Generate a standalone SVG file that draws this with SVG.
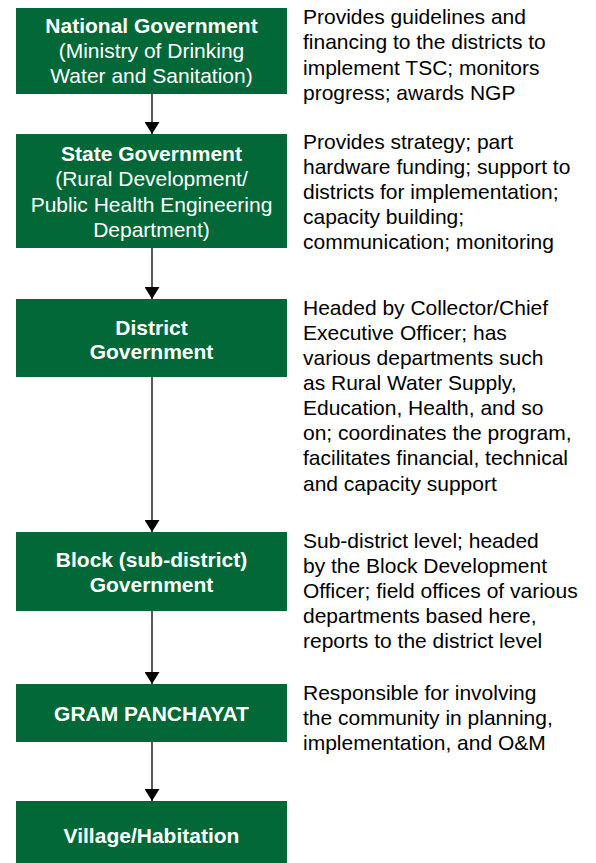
<svg xmlns="http://www.w3.org/2000/svg" width="596" height="863" viewBox="0 0 596 863">
<defs>
<style>
.box{fill:#036837;}
.bt{font-family:"Liberation Sans",Arial,sans-serif;font-size:21px;fill:#ffffff;text-anchor:middle;}
.b{font-weight:bold;}
.desc{font-family:"Liberation Sans",Arial,sans-serif;font-size:21px;fill:#000000;}
.conn{stroke:#000000;stroke-width:1.3;fill:none;marker-end:url(#arr);}
</style>
<marker id="arr" markerUnits="userSpaceOnUse" viewBox="0 0 12 15" refX="12" refY="7.5" markerWidth="12" markerHeight="15" orient="auto">
<path d="M0,0 L12,7.5 L0,15 z" fill="#000000"/>
</marker>
</defs>
<rect width="596" height="863" fill="#ffffff"/>
<g id="connectors">
<line class="conn" x1="152" y1="94" x2="152" y2="134"/>
<line class="conn" x1="152" y1="248" x2="152" y2="299"/>
<line class="conn" x1="152" y1="377" x2="152" y2="532"/>
<line class="conn" x1="152" y1="611" x2="152" y2="684"/>
<line class="conn" x1="152" y1="742" x2="152" y2="801"/>
</g>
<g id="national">
<rect class="box" x="16" y="8" width="271" height="86"/>
<text class="bt b" x="151.5" y="33">National Government</text>
<text class="bt" x="151.5" y="58">(Ministry of Drinking</text>
<text class="bt" x="151.5" y="83">Water and Sanitation)</text>
</g>
<g id="state">
<rect class="box" x="16" y="134" width="271" height="114"/>
<text class="bt b" x="151.5" y="161">State Government</text>
<text class="bt" x="151.5" y="186">(Rural Development/</text>
<text class="bt" x="151.5" y="212">Public Health Engineering</text>
<text class="bt" x="151.5" y="237">Department)</text>
</g>
<g id="district">
<rect class="box" x="16" y="299" width="271" height="78"/>
<text class="bt b" x="151.5" y="335">District</text>
<text class="bt b" x="151.5" y="359">Government</text>
</g>
<g id="block">
<rect class="box" x="16" y="532" width="271" height="79"/>
<text class="bt b" x="151.5" y="567">Block (sub-district)</text>
<text class="bt b" x="151.5" y="592">Government</text>
</g>
<g id="gram">
<rect class="box" x="16" y="684" width="271" height="58"/>
<text class="bt b" x="151.5" y="721">GRAM PANCHAYAT</text>
</g>
<g id="village">
<rect class="box" x="16" y="801" width="271" height="62"/>
<text class="bt b" x="151.5" y="843">Village/Habitation</text>
</g>
<g id="desc-national">
<text class="desc" x="303" y="24">Provides guidelines and</text>
<text class="desc" x="303" y="49">financing to the districts to</text>
<text class="desc" x="303" y="75">implement TSC; monitors</text>
<text class="desc" x="303" y="100">progress; awards NGP</text>
</g>
<g id="desc-state">
<text class="desc" x="303" y="149">Provides strategy; part</text>
<text class="desc" x="303" y="174">hardware funding; support to</text>
<text class="desc" x="303" y="199">districts for implementation;</text>
<text class="desc" x="303" y="224">capacity building;</text>
<text class="desc" x="303" y="249">communication; monitoring</text>
</g>
<g id="desc-district">
<text class="desc" x="303" y="315">Headed by Collector/Chief</text>
<text class="desc" x="303" y="340">Executive Officer; has</text>
<text class="desc" x="303" y="365">various departments such</text>
<text class="desc" x="303" y="390">as Rural Water Supply,</text>
<text class="desc" x="303" y="415">Education, Health, and so</text>
<text class="desc" x="303" y="440">on; coordinates the program,</text>
<text class="desc" x="303" y="465">facilitates financial, technical</text>
<text class="desc" x="303" y="491">and capacity support</text>
</g>
<g id="desc-block">
<text class="desc" x="303" y="548">Sub-district level; headed</text>
<text class="desc" x="303" y="573">by the Block Development</text>
<text class="desc" x="303" y="598">Officer; field offices of various</text>
<text class="desc" x="303" y="623">departments based here,</text>
<text class="desc" x="303" y="648">reports to the district level</text>
</g>
<g id="desc-gram">
<text class="desc" x="303" y="700">Responsible for involving</text>
<text class="desc" x="303" y="725">the community in planning,</text>
<text class="desc" x="303" y="750">implementation, and O&amp;M</text>
</g>
</svg>
